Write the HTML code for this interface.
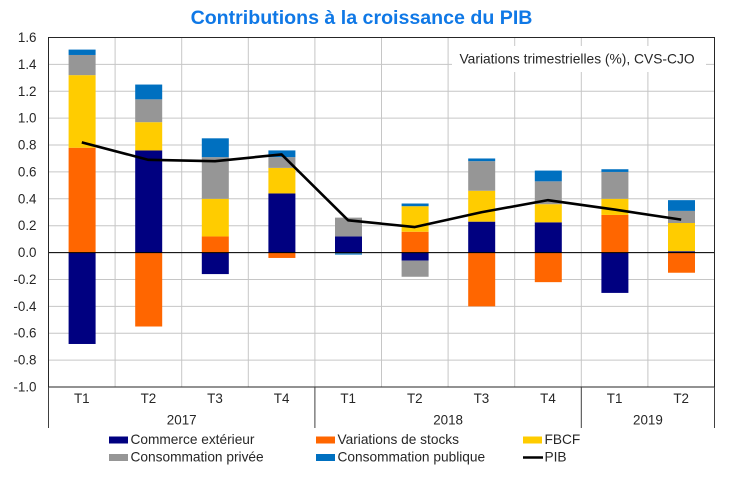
<!DOCTYPE html>
<html lang="fr">
<head>
<meta charset="utf-8">
<title>Contributions à la croissance du PIB</title>
<style>
html,body{margin:0;padding:0;background:#fff;width:741px;height:486px;overflow:hidden}
svg{display:block;font-family:"Liberation Sans",Arial,sans-serif}
text{fill:#262626}
</style>
</head>
<body>
<svg id="chart" xmlns="http://www.w3.org/2000/svg" width="741" height="486" viewBox="0 0 741 486"></svg>
<script>
const quarters = ['T1','T2','T3','T4','T1','T2','T3','T4','T1','T2'];
const years = ['2017','2018','2019'];
const yearSpans = [4,4,2];
const yTicks = [-1.0,-0.8,-0.6,-0.4,-0.2,0.0,0.2,0.4,0.6,0.8,1.0,1.2,1.4,1.6];
const commerce = [-0.68,0.76,-0.16,0.44,0.12,-0.06,0.23,0.225,-0.30,0.01];
const stocks = [0.78,-0.55,0.12,-0.04,-0.005,0.155,-0.40,-0.22,0.28,-0.15];
const fbcf = [0.54,0.21,0.28,0.19,0.0,0.19,0.23,0.135,0.12,0.21];
const privee = [0.15,0.17,0.31,0.08,0.14,-0.12,0.22,0.17,0.20,0.09];
const publique = [0.04,0.11,0.14,0.05,-0.01,0.02,0.02,0.08,0.02,0.08];
const pib = [0.82,0.69,0.68,0.73,0.24,0.19,0.30,0.39,0.32,0.245];

const svg = document.getElementById('chart');
const NS = 'http://www.w3.org/2000/svg';
const L = 48.5, R = 714.5, T = 37.5, B = 387, YMIN = -1.0, YMAX = 1.6;
const catW = (R - L) / quarters.length;
const x = i => L + catW * i;
const y = v => B - (v - YMIN) / (YMAX - YMIN) * (B - T);
function mk(tag, attrs, text) {
  const el = document.createElementNS(NS, tag);
  for (const k in attrs) el.setAttribute(k, attrs[k]);
  if (text !== undefined) el.textContent = text;
  svg.appendChild(el);
  return el;
}
let el;

el = mk('text', {x: 361.5, y: 24, 'text-anchor': 'middle', 'font-size': 19.6, 'font-weight': 'bold', style: 'fill:#0f78e6'}, 'Contributions à la croissance du PIB');



yTicks.forEach(v => {
  const g = mk('line', {x1: L, x2: R, y1: y(v), y2: y(v), stroke: '#c6c6c6', 'stroke-width': 1});
  
  
  const t = mk('text', {x: 36.5, y: y(v) + 4.5, 'text-anchor': 'end', 'font-size': 13.4}, v.toFixed(1));
  
  
});
quarters.forEach((q, i) => {
  if (i === 0) return;
  const g = mk('line', {x1: x(i), x2: x(i), y1: T, y2: B, stroke: '#c6c6c6', 'stroke-width': 1});
  
  
});

el = mk('rect', {x: 452, y: 46, width: 254, height: 26, fill: '#fff'});


el = mk('text', {x: 459.5, y: 63.5, 'font-size': 13.8}, 'Variations trimestrielles (%), CVS-CJO');



const seriesList = [
  {name: 'commerce', values: commerce, color: '#000080'},
  {name: 'stocks', values: stocks, color: '#ff6600'},
  {name: 'fbcf', values: fbcf, color: '#ffcc00'},
  {name: 'privee', values: privee, color: '#969696'},
  {name: 'publique', values: publique, color: '#0070c0'}
];
const barW = 27;
quarters.forEach((q, i) => {
  let pos = 0, neg = 0;
  seriesList.forEach(s => {
    const v = s.values[i];
    const start = v >= 0 ? pos : neg;
    const end = start + v;
    if (v >= 0) pos = end; else neg = end;
    const top = Math.min(y(start), y(end));
    const h = Math.abs(y(end) - y(start));
    const r = mk('rect', {x: x(i) + (catW - barW) / 2 + 0.3, y: top, width: barW, height: h, fill: s.color});
    
    
  });
});

el = mk('line', {x1: L, x2: R, y1: y(0), y2: y(0), stroke: '#000', 'stroke-width': 1});



const pts = pib.map((v, i) => (x(i) + catW / 2) + ',' + y(v)).join(' ');
el = mk('polyline', {points: pts, fill: 'none', stroke: '#000', 'stroke-width': 2.6, 'stroke-linejoin': 'round'});



el = mk('rect', {x: L, y: T, width: R - L, height: B - T, fill: 'none', stroke: '#262626', 'stroke-width': 1});



quarters.forEach((q, i) => {
  const t = mk('text', {x: x(i) + catW / 2, y: 403, 'text-anchor': 'middle', 'font-size': 13.4}, q);
  
  
});
let cum = 0;
const sep0 = mk('line', {x1: L, x2: L, y1: B, y2: 428, stroke: '#404040', 'stroke-width': 1});


years.forEach((yr, k) => {
  const c = cum + yearSpans[k] / 2;
  cum += yearSpans[k];
  const t = mk('text', {x: x(c), y: 424.5, 'text-anchor': 'middle', 'font-size': 13.4}, yr);
  
  
  const s = mk('line', {x1: x(cum), x2: x(cum), y1: B, y2: 428, stroke: '#404040', 'stroke-width': 1});
  
  
});

const legendLabels = ['Commerce extérieur','Variations de stocks','FBCF','Consommation privée','Consommation publique','PIB'];
const legendColors = ['#000080','#ff6600','#ffcc00','#969696','#0070c0','#000'];
const legendCols = [109, 316, 523];
const legendRows = [440, 457.5];
legendLabels.forEach((lab, i) => {
  const cx = legendCols[i % 3], cy = legendRows[Math.floor(i / 3)];
  let sw;
  if (lab === 'PIB') {
    sw = mk('line', {x1: cx, x2: cx + 20, y1: cy, y2: cy, stroke: '#000', 'stroke-width': 2.4});
  } else {
    sw = mk('rect', {x: cx, y: cy - 3.5, width: 19, height: 7, fill: legendColors[i]});
  }
  
  
  const t = mk('text', {x: cx + 21.5, y: cy + 4, 'font-size': 13.7}, lab);
  
  
});
</script>
</body>
</html>
